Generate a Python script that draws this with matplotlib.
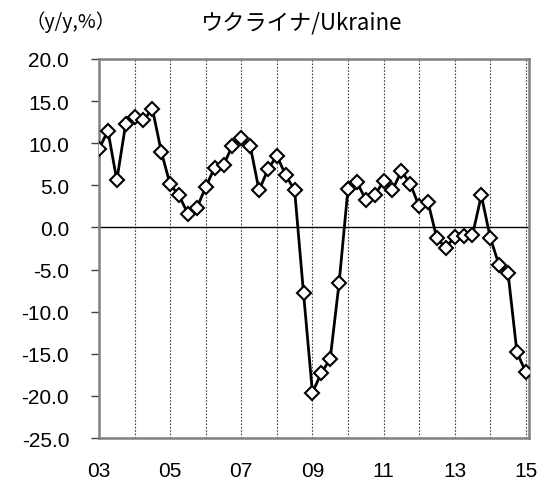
import numpy as np
import matplotlib.pyplot as plt

plt.rcParams['font.family'] = 'sans-serif'
plt.rcParams['font.sans-serif'] = ['Liberation Sans']

# 四半期データ 2003Q1 - 2015Q1 (前年比, %)
start_year = 3
values = [9.3, 11.5, 5.6, 12.3, 13.1, 12.7, 14.1, 9.0,
          5.1, 3.8, 1.6, 2.3, 4.8, 7.1, 7.4, 9.7,
          10.6, 9.7, 4.4, 6.9, 8.5, 6.2, 4.4, -7.8,
          -19.6, -17.3, -15.6, -6.6, 4.6, 5.4, 3.3, 3.8,
          5.5, 4.4, 6.7, 5.2, 2.5, 3.0, -1.3, -2.4,
          -1.1, -1.0, -0.9, 3.8, -1.2, -4.5, -5.4, -14.8,
          -17.2]
xticks = [3, 5, 7, 9, 11, 13, 15]
xtick_labels = ['03', '05', '07', '09', '11', '13', '15']
yticks = [-25, -20, -15, -10, -5, 0, 5, 10, 15, 20]

x = start_year + np.arange(len(values)) / 4.0

fig = plt.figure(figsize=(5.45, 4.81), dpi=100)
ax = fig.add_axes([0.1817, 0.0873, 0.7883, 0.788])

# 縦の点線グリッド
for yr in range(4, 16):
    ax.axvline(yr, color='#404040', linestyle=(0, (1.5, 1.5)), linewidth=0.8, zorder=1)
ax.axhline(0, color='black', linewidth=1.0, zorder=2)

ax.plot(x, values, color='black', linewidth=2.0, marker='D', markersize=7.5,
        markerfacecolor='white', markeredgecolor='black', markeredgewidth=1.5, zorder=3)

ax.set_xlim(3, 15.08)
ax.set_ylim(-25, 20)
ax.set_yticks(yticks)
ax.set_yticklabels(['%.1f' % v for v in yticks])
ax.set_xticks(xticks)
ax.set_xticklabels(xtick_labels)
ax.tick_params(axis='y', direction='out', length=6, width=1, color='#404040', pad=15.5, labelsize=15)
ax.tick_params(axis='x', length=0, pad=16.5, labelsize=15)

for s in ax.spines.values():
    s.set_color('#808080')
    s.set_linewidth(1.8)

fig.text(0.554, 0.953, 'ウクライナ/Ukraine', ha='center', va='center', fontsize=16,
         family=['Noto Sans CJK JP', 'Liberation Sans'])
fig.text(0.047, 0.953, '（y/y,%）', ha='left', va='center', fontsize=14,
         family=['Noto Sans CJK JP', 'Liberation Sans'])

fig.savefig('out.png', dpi=100)
